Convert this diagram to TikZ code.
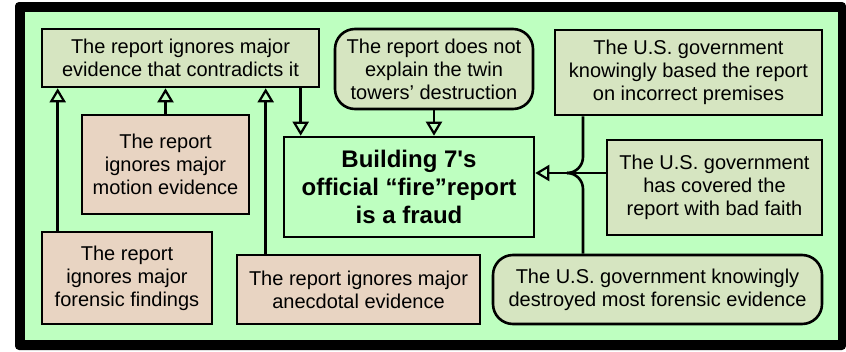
\documentclass[tikz,border=0pt]{standalone}
\usepackage{fontspec}
\setmainfont{Liberation Sans}[Ligatures=TeXOff]
\usetikzlibrary{arrows.meta}

\definecolor{bggreen}{RGB}{190,255,192}
\definecolor{claimgreen}{RGB}{214,229,193}
\definecolor{objtan}{RGB}{232,212,194}

\begin{document}
\begin{tikzpicture}[x=1pt, y=-1pt]
        % Common styles
        \tikzstyle{claim}=[draw, line width=2.6pt, fill=claimgreen, align=center, inner sep=0pt, font=\fontsize{20}{23}\selectfont]
        \tikzstyle{objection}=[claim, fill=objtan]
        \tikzstyle{roundclaim}=[claim, rounded corners=20pt]
        \tikzstyle{link}=[line width=2.6pt, -{Triangle[open, length=14pt, width=16pt, line width=2.2pt]}]

        % --- Frame ---
        \useasboundingbox (0,0) rectangle (846,351);
        \fill[black, rounded corners=4pt] (15,2) rectangle (846,350);
        \fill[bggreen] (25,12) rectangle (838,340);

        % --- Main claim ---
        \node[draw, line width=2.6pt, fill=bggreen, minimum width=250pt, minimum height=100pt, align=center, font=\bfseries\fontsize{24}{28}\selectfont] (fraud) at (409,187) {Building 7's\\official “fire”report\\is a fraud};

        % --- Left: ignored evidence ---
        \node[claim, minimum width=277pt, minimum height=58pt] (ev) at (180.5,58) {The report ignores major\\evidence that contradicts it};
        \node[objection, minimum width=167pt, minimum height=99pt] (motion) at (165.5,164.5) {The report\\ignores major\\motion evidence};
        \node[objection, minimum width=170pt, minimum height=92pt] (forens) at (127,278) {The report\\ignores major\\forensic findings};
        \node[objection, minimum width=243pt, minimum height=69pt] (anecd) at (358.5,289.5) {The report ignores major\\anecdotal evidence};

        % --- Top middle ---
        \node[roundclaim, minimum width=198pt, minimum height=80pt] (twin) at (434,69) {The report does not\\explain the twin\\towers’ destruction};

        % --- Right: government ---
        \node[claim, minimum width=267pt, minimum height=85pt] (prem) at (688.5,72.5) {The U.S. government\\knowingly based the report\\on incorrect premises};
        \node[claim, minimum width=215pt, minimum height=95pt] (faith) at (714.5,187.5) {The U.S. government\\has covered the\\report with bad faith};
        \node[roundclaim, minimum width=329pt, minimum height=69pt] (destr) at (657.5,289.5) {The U.S. government knowingly\\destroyed most forensic evidence};

        % Arrows into the evidence claim
        \draw[link] ([xshift=17pt]forens.north west) -- ([xshift=17pt]forens.north west |- ev.south);
        \draw[link] (motion.north) -- (motion.north |- ev.south);
        \draw[link] ([xshift=30pt]anecd.north west) -- ([xshift=30pt]anecd.north west |- ev.south);

        % Arrows into the main claim
        \draw[link] ([xshift=18pt]fraud.north west |- ev.south) -- ([xshift=18pt]fraud.north west);
        \draw[link] (twin.south) -- (twin.south |- fraud.north);

        % Joined arrow from the right
        \coordinate (join) at (583,173);
        \coordinate (merge) at (567,173);
        \draw[link] (faith.west |- join) -- (fraud.east |- join);
        \draw[line width=2.6pt, rounded corners=16pt] (prem.south -| join) -- (join) -- (merge);
        \draw[line width=2.6pt, rounded corners=16pt] (destr.north -| join) -- (join) -- (merge);

    \end{tikzpicture}
\end{document}
